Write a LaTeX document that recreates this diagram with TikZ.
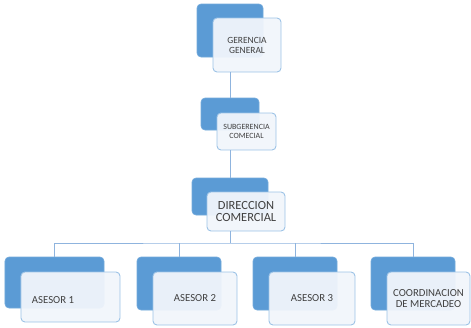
\documentclass[tikz,border=0pt]{standalone}
\usepackage{fontspec}
\setmainfont{Carlito}
\usepackage{tikz}
\definecolor{boxblue}{HTML}{5B9BD5}
\definecolor{paleblue}{HTML}{F1F5FB}
\definecolor{edgeblue}{HTML}{9DC3E6}
\definecolor{linkblue}{HTML}{8FB4DE}
\definecolor{inkgray}{HTML}{404040}

\begin{document}
\begin{tikzpicture}
[x=1bp, y=-1bp,
darkbox/.style={rectangle, rounded corners=4bp, fill=boxblue, draw=boxblue!85!white, line width=.6bp, inner sep=0pt},
lightbox/.style={rectangle, rounded corners=4bp, fill=paleblue, fill opacity=.95, text opacity=1, draw=edgeblue, line width=.9bp, inner sep=0pt, align=center, text=inkgray},
link/.style={draw=linkblue, line width=.9bp},
small/.style={font=\fontsize{9.5}{10}\selectfont},
tiny/.style={font=\fontsize{8}{9.3}\selectfont},
big/.style={font=\fontsize{12.5}{12.3}\selectfont},
mid/.style={font=\fontsize{10.8}{11.3}\selectfont}]
\useasboundingbox (0,0) rectangle (471,327);

\node[darkbox, minimum width=66bp, minimum height=53bp] (gg-b) at (230,30.5) {};
\node[lightbox, small, minimum width=68bp, minimum height=54bp] (gg) at (247,45) {GERENCIA\\GENERAL};

\node[darkbox, minimum width=58bp, minimum height=32bp] (sg-b) at (230,114) {};
\node[lightbox, tiny, minimum width=59bp, minimum height=37bp] (sg) at (246.5,131.5) {SUBGERENCIA\\COMECIAL};

\node[darkbox, minimum width=76bp, minimum height=37bp] (dc-b) at (230,196.5) {};
\node[lightbox, big, minimum width=78bp, minimum height=39bp] (dc) at (246,211.5) {DIRECCION\\COMERCIAL};

\node[darkbox, minimum width=99bp, minimum height=51bp] (a1-b) at (54.5,282.5) {};
\node[lightbox, minimum width=99bp, minimum height=50bp] (a1) at (70.5,297) {};
\node[mid, text=inkgray] (a1-t) at (53,300) {ASESOR 1};

\node[darkbox, minimum width=84bp, minimum height=53bp] (a2-b) at (179,283.5) {};
\node[lightbox, mid, minimum width=84bp, minimum height=53bp] (a2) at (195,298.5) {ASESOR 2};

\node[darkbox, minimum width=84bp, minimum height=53bp] (a3-b) at (295,283.5) {};
\node[lightbox, mid, minimum width=86bp, minimum height=53bp] (a3) at (312,298.5) {ASESOR 3};

\node[darkbox, minimum width=84bp, minimum height=53bp] (co-b) at (413,283.5) {};
\node[lightbox, mid, minimum width=83bp, minimum height=53bp] (co) at (428.5,298.5) {COORDINACION\\DE MERCADEO};

\coordinate (bus) at (230,243);
\draw[link] (gg-b.center |- gg.south) -- (sg-b.north);
\draw[link] (sg-b.center |- sg.south) -- (dc-b.north);
\draw[link] (dc-b.center |- dc.south) -- (bus);
\draw[link] (a1-b.north) |- (bus) -| (co-b.north);
\draw[link] (a2-b.north) -- (a2-b.north |- bus);
\draw[link] (a3-b.north) -- (a3-b.north |- bus);
\end{tikzpicture}
\end{document}
